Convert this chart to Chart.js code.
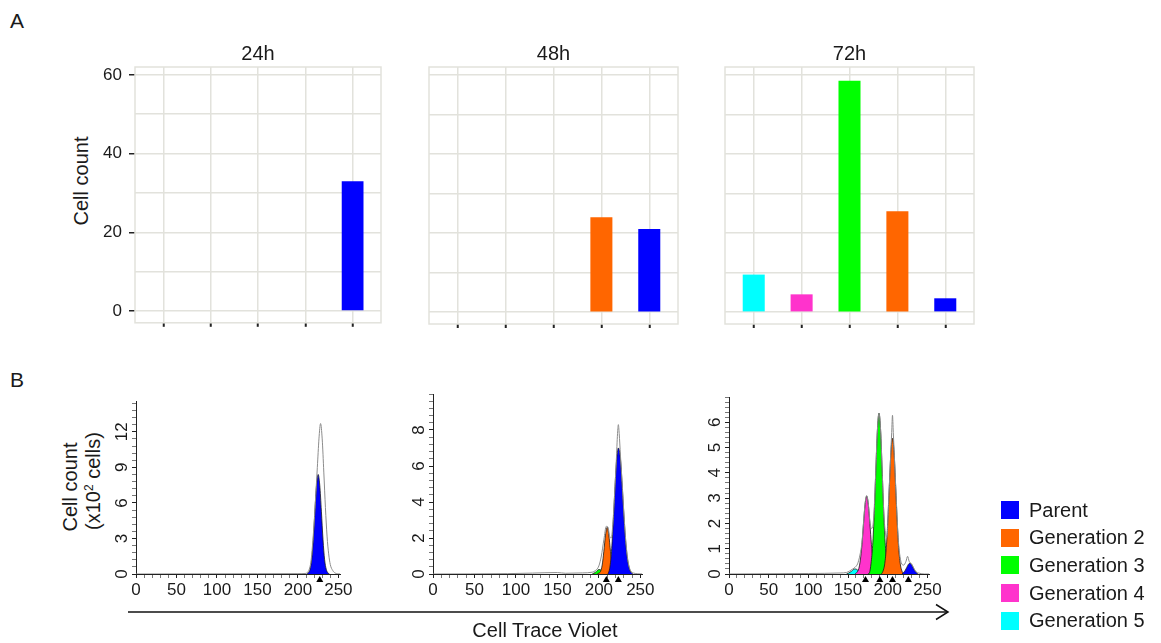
<!DOCTYPE html>
<html>
<head>
<meta charset="utf-8">
<script src="https://cdn.jsdelivr.net/npm/chart.js@4.4.0/dist/chart.umd.min.js"></script>
<style>
body { margin: 0; background: #fff; font-family: "Liberation Sans", Arial, sans-serif; color: #1a1a1a; }
#page { position: relative; width: 1161px; height: 643px; overflow: hidden; }
canvas { position: absolute; }
.txt { position: absolute; white-space: nowrap; line-height: 1; transform: translate(-50%, -50%); }
.rot { transform: translate(-50%, -50%) rotate(-90deg); }
.legend-row { position: absolute; left: 1001px; height: 22px; display: flex; align-items: center; font-size: 20px; }
.legend-row span { display: inline-block; width: 18px; height: 18px; margin-right: 10px; }
sup { font-size: 12px; vertical-align: 7px; line-height: 0; }
</style>
</head>
<body>
<div id="page">
  <div class="txt" style="left:17px; top:20px; font-size:21px;">A</div>
  <div class="txt" style="left:17px; top:379px; font-size:21px;">B</div>
  <div class="txt rot" style="left:81px; top:181px; font-size:20px;">Cell count</div>
  <div class="txt rot" style="left:70px; top:487px; font-size:20px;">Cell count</div>
  <div class="txt rot" style="left:93px; top:481px; font-size:20px;">(x10<sup>2</sup> cells)</div>

  <canvas id="c24" width="335" height="310" style="left:55px; top:30px;"></canvas>
  <canvas id="c48" width="278" height="310" style="left:409px; top:30px;"></canvas>
  <canvas id="c72" width="278" height="310" style="left:705px; top:30px;"></canvas>

  <canvas id="h24" width="270" height="215" style="left:100px; top:390px;"></canvas>
  <canvas id="h48" width="270" height="225" style="left:397px; top:380px;"></canvas>
  <canvas id="h72" width="270" height="225" style="left:693px; top:380px;"></canvas>

  <svg style="position:absolute; left:0; top:0;" width="1161" height="643">
    <line x1="128" y1="612" x2="948" y2="612" stroke="#111" stroke-width="1.5"/>
    <polyline points="936,604.5 948,612 936,619.5" fill="none" stroke="#111" stroke-width="1.5"/>
  </svg>
  <div class="txt" style="left:545px; top:630px; font-size:20px;">Cell Trace Violet</div>

  <div id="legend"></div>
</div>

<script>
// bar panels (A)
const gens = ['Generation 5', 'Generation 4', 'Generation 3', 'Generation 2', 'Parent'];
const genColors = ['#00ffff', '#ff33cc', '#00ff00', '#ff6600', '#0000ff'];
const count24 = [0, 0, 0, 0, 33];
const count48 = [0, 0, 0, 24, 21];
const count72 = [9.5, 4.5, 58.5, 25.5, 3.5];
const countTicks = [0, 20, 40, 60];

// histogram panels (B), [cell trace violet, cells x100]
const h24Total = [[0,0],[150,0.02],[200,0.03],[210,0.05],[212,0.15],[214,0.4],[216,1.0],[218,2.4],[220,4.3],[222,6.6],[224,9.0],[226,11.4],[228,12.7],[230,11.4],[232,8.6],[234,5.6],[236,3.2],[238,1.7],[240,0.8],[243,0.3],[246,0.08],[252,0]];
const h24Parent = [[211,0],[213,0.1],[215,0.4],[217,1.2],[219,2.9],[221,5.3],[223,7.5],[225,8.4],[227,7.5],[229,5.3],[231,2.9],[233,1.2],[235,0.4],[237,0.1],[239,0]];

const h48Total = [[0,0],[90,0.02],[120,0.05],[150,0.08],[160,0.04],[180,0.06],[192,0.1],[196,0.2],[200,0.45],[203,1.0],[206,1.9],[209,2.65],[211,2.6],[213,2.1],[215,2.0],[217,2.9],[219,4.5],[221,6.3],[222.5,7.8],[223.5,8.3],[224.5,7.8],[226,6.6],[228,5.1],[230,3.5],[232,2.1],[234,1.1],[236,0.5],[238,0.2],[242,0.05],[252,0]];
const h48Parent = [[211,0],[213,0.3],[215,1.1],[217,2.6],[219,4.4],[221,6.1],[223.5,7.0],[226,6.4],[228,5.0],[230,3.4],[232,2.0],[234,1.0],[236,0.45],[238,0.15],[241,0]];
const h48Gen2 = [[198,0],[200,0.05],[202,0.14],[204,0.5],[206,1.26],[208,2.16],[210,2.6],[212,2.16],[214,1.26],[216,0.5],[218,0.14],[220,0]];
const h48Gen3 = [[192,0],[196,0.1],[200,0.25],[203,0.2],[206,0.05],[208,0]];

const h72Total = [[0,0],[100,0.02],[140,0.04],[148,0.06],[152,0.12],[156,0.2],[159,0.27],[162,0.4],[165,0.75],[167.5,1.25],[169.5,2.05],[171.5,2.8],[173.5,3.1],[175.5,2.8],[177.5,2.1],[179.5,1.8],[181,1.85],[183,2.6],[185,4.15],[187,5.7],[189,6.36],[191,5.7],[193,4.1],[195,2.45],[197,1.65],[199,1.45],[201,2.8],[203,4.2],[205,5.6],[206,6.28],[207,5.6],[209,4.2],[211,2.8],[213,1.5],[215,0.8],[217,0.45],[220,0.35],[223,0.5],[225,0.7],[227,0.5],[230,0.4],[233,0.22],[236,0.08],[240,0.03],[246,0],[252,0]];
const h72Parent = [[218,0],[220,0.06],[222,0.14],[224,0.26],[226,0.38],[228,0.43],[230,0.38],[232,0.26],[234,0.14],[236,0.06],[238,0]];
const h72Gen2 = [[192,0],[194,0.11],[196,0.36],[198,0.95],[200,2.03],[202,3.46],[204,4.81],[206,5.37],[208,4.81],[210,3.46],[212,2.03],[214,0.95],[216,0.36],[218,0.11],[220,0]];
const h72Gen3 = [[175,0],[177,0.05],[179,0.43],[181,1.13],[183,2.4],[185,4.1],[187,5.7],[189,6.36],[191,5.7],[193,4.1],[195,2.4],[197,1.13],[199,0.43],[201,0.13],[203,0]];
const h72Gen4 = [[159,0],[161,0.06],[163.5,0.21],[165.5,0.55],[167.5,1.16],[169.5,1.99],[171.5,2.76],[173.5,3.08],[175.5,2.76],[177.5,1.99],[179.5,1.16],[181.5,0.55],[183.5,0.21],[186,0.05],[188,0]];
const h72Gen5 = [[148,0],[151,0.04],[154,0.1],[157,0.18],[159,0.2],[161,0.18],[164,0.1],[167,0.04],[170,0]];

const marks24 = [227];
const marks48 = [209, 223.5];
const marks72 = [172, 190, 206, 226];

const xTicks = [0, 50, 100, 150, 200, 250];
const yTicks24 = [0, 3, 6, 9, 12];
const yTicks48 = [0, 2, 4, 6, 8];
const yTicks72 = [0, 1, 2, 3, 4, 5, 6];

const family = '"Liberation Sans", Arial, sans-serif';
const gridColor = '#e2e2dc';
const ink = '#1a1a1a';

// legend, top to bottom
const legendOrder = [4, 3, 2, 1, 0];
const legendEl = document.getElementById('legend');
legendOrder.forEach((g, i) => {
    const row = document.createElement('div');
    row.className = 'legend-row';
    row.style.top = (499 + i * 27.7) + 'px';
    row.innerHTML = '<span style="background:' + genColors[g] + '"></span>' + gens[g];
    legendEl.appendChild(row);
});

const frame = {
    id: 'frame',
    beforeDatasetsDraw(chart) {
        const a = chart.chartArea;
        const ctx = chart.ctx;
        ctx.save();
        ctx.strokeStyle = gridColor;
        ctx.lineWidth = 1.5;
        ctx.strokeRect(a.left, a.top, a.right - a.left, a.bottom - a.top);
        ctx.restore();
    }
};

function barPanel(id, title, counts, showAxis) {
    new Chart(document.getElementById(id), {
        type: 'bar',
        data: {
            datasets: [{
                label: title,
                data: counts.map((v, i) => ({x: i, y: v})),
                backgroundColor: genColors,
                borderWidth: 0,
                barPercentage: 0.46,
                categoryPercentage: 1
            }]
        },
        options: {
            responsive: false,
            animation: false,
            layout: {padding: {right: 9}},
            plugins: {
                legend: {display: false},
                tooltip: {enabled: false},
                title: {
                    display: true,
                    text: title,
                    fullSize: false,
                    color: ink,
                    font: {family: family, size: 20, weight: 'normal'},
                    padding: {top: 12, bottom: 1}
                }
            },
            scales: {
                x: {
                    type: 'linear',
                    min: -0.6,
                    max: 4.6,
                    offset: false,
                    ticks: {stepSize: 1, display: false, includeBounds: false},
                    grid: {offset: false, color: gridColor, lineWidth: 1.5, tickColor: '#222', tickLength: 4, tickWidth: 2},
                    border: {display: false},
                    afterFit: s => { s.height = 16; }
                },
                y: {
                    min: -3,
                    max: 62,
                    ticks: {
                        stepSize: 10,
                        includeBounds: false,
                        display: showAxis,
                        padding: 7,
                        color: ink,
                        font: {family: family, size: 17},
                        callback: v => countTicks.includes(v) ? v : ''
                    },
                    grid: {
                        color: gridColor,
                        lineWidth: 1.5,
                        tickLength: 6,
                        tickWidth: 1.5,
                        tickColor: c => (showAxis && c.tick && countTicks.includes(c.tick.value)) ? '#222' : 'rgba(0,0,0,0)'
                    },
                    border: {display: false},
                    afterFit: s => { s.width = showAxis ? 80 : 20; }
                }
            }
        },
        plugins: [frame]
    });
}

barPanel('c24', '24h', count24, true);
barPanel('c48', '48h', count48, false);
barPanel('c72', '72h', count72, false);

const rotatedYTicks = {
    id: 'rotatedYTicks',
    afterDraw(chart, args, opts) {
        const y = chart.scales.y;
        const ctx = chart.ctx;
        ctx.save();
        ctx.font = '17px ' + family;
        ctx.fillStyle = ink;
        ctx.textAlign = 'center';
        ctx.textBaseline = 'middle';
        opts.labels.forEach(v => {
            ctx.save();
            ctx.translate(y.right - 14, y.getPixelForValue(v));
            ctx.rotate(-Math.PI / 2);
            ctx.fillText(String(v), 0, 0);
            ctx.restore();
        });
        ctx.restore();
    }
};

const peakMarkers = {
    id: 'peakMarkers',
    afterDraw(chart, args, opts) {
        const {x, y} = chart.scales;
        const ctx = chart.ctx;
        const base = y.getPixelForValue(0);
        ctx.save();
        ctx.fillStyle = '#000';
        opts.at.forEach(v => {
            const px = x.getPixelForValue(v);
            ctx.beginPath();
            ctx.moveTo(px, base + 2);
            ctx.lineTo(px - 3.5, base + 8);
            ctx.lineTo(px + 3.5, base + 8);
            ctx.closePath();
            ctx.fill();
        });
        ctx.restore();
    }
};

function toPoints(pairs) {
    return pairs.map(p => ({x: p[0], y: p[1]}));
}

function histPanel(id, total, peaks, yMax, yStep, yLabels, marks, padTop, padRight) {
    const datasets = [{
        label: 'Total',
        data: toPoints(total),
        borderColor: '#8c8c8c',
        borderWidth: 1,
        fill: false,
        pointRadius: 0,
        cubicInterpolationMode: 'monotone'
    }];
    peaks.forEach(p => {
        datasets.push({
            label: gens[p.gen],
            data: toPoints(p.data),
            borderColor: ink,
            borderWidth: 0.8,
            backgroundColor: genColors[p.gen],
            fill: 'origin',
            pointRadius: 0,
            cubicInterpolationMode: 'monotone'
        });
    });
    new Chart(document.getElementById(id), {
        type: 'line',
        data: {datasets: datasets},
        options: {
            responsive: false,
            animation: false,
            layout: {padding: {top: padTop, right: padRight}},
            plugins: {
                legend: {display: false},
                tooltip: {enabled: false},
                rotatedYTicks: {labels: yLabels},
                peakMarkers: {at: marks}
            },
            scales: {
                x: {
                    type: 'linear',
                    min: 0,
                    max: 252,
                    ticks: {
                        stepSize: 10,
                        includeBounds: false,
                        autoSkip: false,
                        maxRotation: 0,
                        minRotation: 0,
                        padding: 2,
                        color: ink,
                        font: {family: family, size: 17},
                        callback: v => xTicks.includes(v) ? v : ''
                    },
                    grid: {
                        drawOnChartArea: false,
                        tickLength: 4,
                        tickColor: c => (c.tick && xTicks.includes(c.tick.value)) ? '#222' : '#777'
                    },
                    border: {color: '#222', width: 1},
                    afterFit: s => { s.height = 31; }
                },
                y: {
                    min: 0,
                    max: yMax,
                    ticks: {stepSize: yStep, includeBounds: false, autoSkip: false, display: false},
                    grid: {
                        drawOnChartArea: false,
                        tickLength: 4,
                        tickColor: c => (c.tick && yLabels.some(v => Math.abs(v - c.tick.value) < 1e-6)) ? '#222' : '#777'
                    },
                    border: {color: '#222', width: 1},
                    afterFit: s => { s.width = 36; }
                }
            }
        },
        plugins: [rotatedYTicks, peakMarkers]
    });
}

histPanel('h24', h24Total, [{gen: 4, data: h24Parent}], 14.6, 0.6, yTicks24, marks24, 11, 30);
histPanel('h48', h48Total, [{gen: 4, data: h48Parent}, {gen: 3, data: h48Gen2}, {gen: 2, data: h48Gen3}], 10, 0.4, yTicks48, marks48, 14, 25);
histPanel('h72', h72Total, [{gen: 4, data: h72Parent}, {gen: 3, data: h72Gen2}, {gen: 2, data: h72Gen3}, {gen: 1, data: h72Gen4}, {gen: 0, data: h72Gen5}], 7, 0.2, yTicks72, marks72, 17, 34);
</script>
</body>
</html>
